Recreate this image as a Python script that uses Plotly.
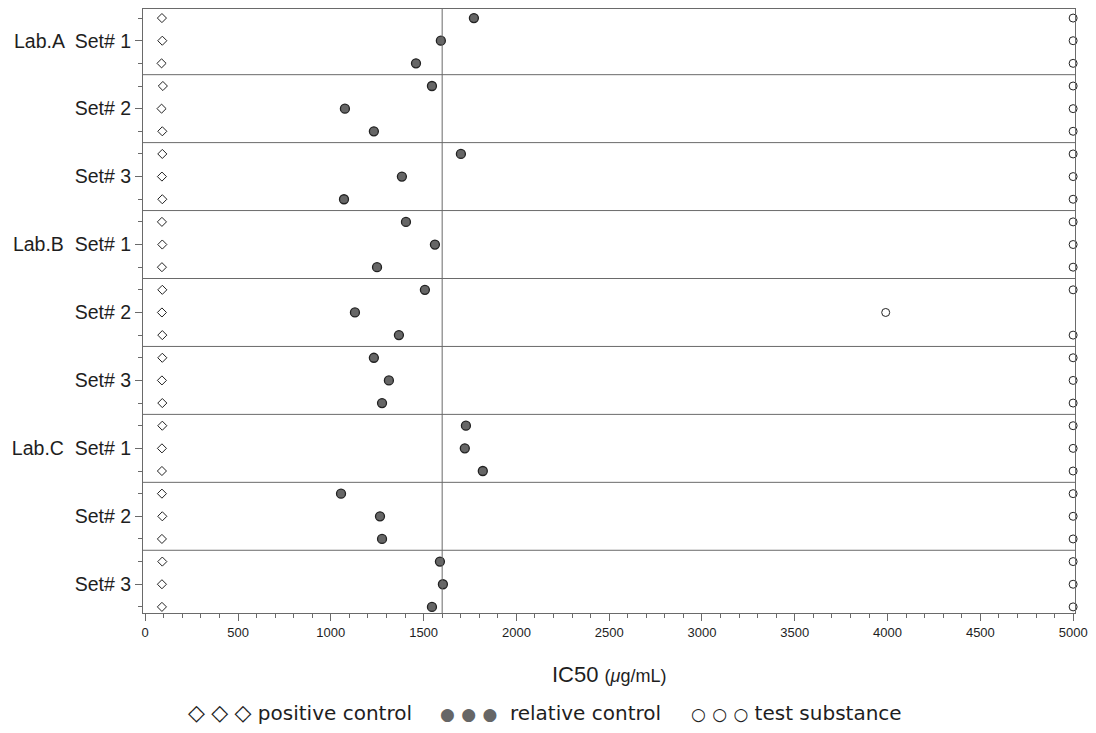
import plotly.graph_objects as go

labs = ["Lab.A", "Lab.B", "Lab.C"]
sets = ["Set# 1", "Set# 2", "Set# 3"]

positive_control = [90, 92, 88, 95, 88, 92, 92, 90, 92,
                    90, 92, 90, 92, 90, 92, 92, 90, 92,
                    92, 90, 90, 90, 92, 90, 92, 90, 90]
relative_control = [1771, 1593, 1459, 1545, 1076, 1232, 1701, 1383, 1071,
                    1405, 1561, 1249, 1507, 1130, 1367, 1232, 1313, 1276,
                    1728, 1722, 1819, 1055, 1265, 1276, 1588, 1604, 1545]
test_substance = [5000, 5000, 5000, 5000, 5000, 5000, 5000, 5000, 5000,
                  5000, 5000, 5000, 5000, 3990, 5000, 5000, 5000, 5000,
                  5000, 5000, 5000, 5000, 5000, 5000, 5000, 5000, 5000]
reference_line = 1600
x_ticks = [0, 500, 1000, 1500, 2000, 2500, 3000, 3500, 4000, 4500, 5000]
legend_items = ["positive control", "relative control", "test substance"]

W, H = 1096, 733
ML, MR, MT, MB = 143, 19, 8, 120
PW, PH = W - ML - MR, H - MT - MB

rows = list(range(len(relative_control)))
FONT = "Liberation Sans, Arial, sans-serif"
LFONT = "DejaVu Sans, Verdana, sans-serif"
LINE = "#6a6a6a"
TXT = "#1e1e1e"

fig = go.Figure()
fig.add_trace(go.Scatter(x=positive_control, y=rows, mode="markers", cliponaxis=False,
                         marker=dict(symbol="diamond-open", size=7, color="#222",
                                     line=dict(width=1)), name=legend_items[0]))
fig.add_trace(go.Scatter(x=relative_control, y=rows, mode="markers", cliponaxis=False,
                         marker=dict(symbol="circle", size=9, color="#666666",
                                     line=dict(width=1.3, color="#222")), name=legend_items[1]))
fig.add_trace(go.Scatter(x=test_substance, y=rows, mode="markers", cliponaxis=False,
                         marker=dict(symbol="circle-open", size=8, color="#222",
                                     line=dict(width=1)), name=legend_items[2]))

# panel separators
n_panels = len(labs) * len(sets)
for i in range(1, n_panels):
    fig.add_shape(type="line", xref="paper", x0=0, x1=1, y0=3 * i - 0.5, y1=3 * i - 0.5,
                  line=dict(color=LINE, width=1))
fig.add_shape(type="line", x0=reference_line, x1=reference_line, yref="paper", y0=0, y1=1,
              line=dict(color=LINE, width=1))

# y tick labels (one per set, at the middle row)
label_rows, label_text = [], []
for li, lab in enumerate(labs):
    for si, s in enumerate(sets):
        label_rows.append((li * len(sets) + si) * 3 + 1)
        label_text.append((lab + "  " + s) if si == 0 else s)

fig.update_layout(
    width=W, height=H,
    margin=dict(l=ML, r=MR, t=MT, b=MB),
    plot_bgcolor="white", paper_bgcolor="white",
    showlegend=False,
    font=dict(family=FONT, color=TXT),
    xaxis=dict(range=[-12, 5010], tickvals=x_ticks, ticks="outside", ticklen=7, tickcolor=LINE,
               minor=dict(dtick=100, tick0=0, ticks="outside", ticklen=4, tickcolor=LINE),
               showline=True, linecolor=LINE, mirror=True, showgrid=False, zeroline=False,
               tickfont=dict(size=13, family=FONT, color=TXT)),
    yaxis=dict(range=[26.27, -0.4], tickvals=label_rows, ticktext=label_text, ticks="outside",
               ticklen=7, tickcolor=LINE,
               minor=dict(dtick=1, tick0=0, ticks="outside", ticklen=4, tickcolor=LINE),
               showline=True, linecolor=LINE, mirror=True,
               showgrid=False, zeroline=False, tickfont=dict(size=19.5, family=FONT, color=TXT)),
)

def px_x(px):
    return (px - ML) / PW

def px_y(py):
    return (H - MB - py) / PH

# axis title
fig.add_annotation(
    xref="paper", yref="paper", x=px_x(610), y=px_y(675), xanchor="center", yanchor="middle",
    showarrow=False, font=dict(size=22, family=FONT, color=TXT),
    text="IC50 <span style='font-size:18px'>(<i>μ</i>g/mL)</span>",
)

# legend row
def sym_group(ch, size, color=TXT):
    one = "<span style='font-size:%dpx;color:%s'>%s</span>" % (size, color, ch)
    return "&nbsp;".join([one, one, one])

legend_symbols = [sym_group("◇", 22), sym_group("●", 17, "#666666"), sym_group("○", 17)]
legend_gaps = [" ", "&nbsp; ", " "]
legend_x = [186, 439, 690]
for sym, gap, name, lx in zip(legend_symbols, legend_gaps, legend_items, legend_x):
    fig.add_annotation(
        xref="paper", yref="paper", x=px_x(lx), y=px_y(713), xanchor="left", yanchor="middle",
        showarrow=False, font=dict(size=20, family=LFONT, color=TXT),
        text=sym + gap + name,
    )

fig.write_html("out.html", config={"displayModeBar": False},
               post_script="document.body.style.margin='0';")
